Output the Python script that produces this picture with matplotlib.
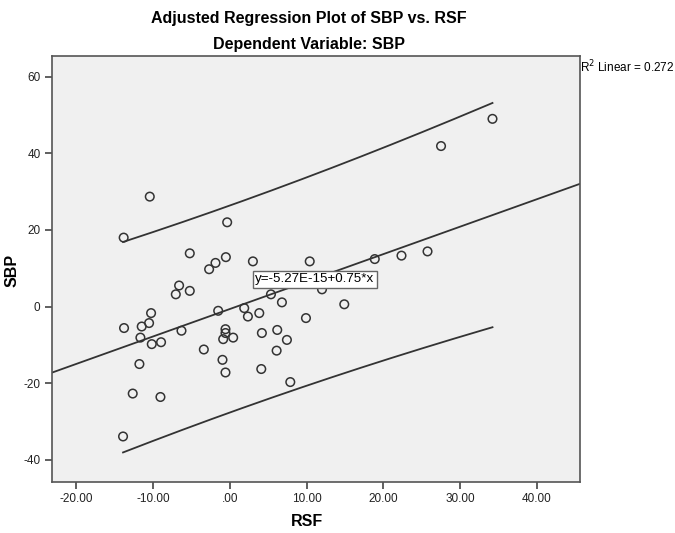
import numpy as np
import matplotlib
matplotlib.use("Agg")
import matplotlib.pyplot as plt

plt.rcParams['font.family'] = ['Liberation Sans', 'DejaVu Sans']

# partial residuals (RSF adjusted, SBP adjusted)
rsf = [-10.43, -13.83, -0.35, -5.22, -0.52, -1.87, -2.70, -6.61, -7.04, -5.22,
       -10.26, -1.52, -13.78, -11.48, -10.52, -11.65, -6.30, -10.17, -8.96, -0.57,
       -0.57, -0.87, 0.43, -3.39, -0.96, -0.57, -11.78, -12.65, -9.04, -13.91,
       3.00, 10.40, 5.35, 6.78, 12.00, 14.90, 1.87, 2.35, 3.83, 9.91,
       4.17, 6.17, 7.43, 6.09, 4.09, 7.87, 34.20, 27.50, 18.87, 22.35, 25.74]
sbp = [28.7, 18.0, 22.0, 13.9, 12.9, 11.4, 9.75, 5.5, 3.2, 4.1,
       -1.7, -1.1, -5.6, -5.2, -4.3, -8.1, -6.3, -9.8, -9.3, -5.9,
       -6.9, -8.5, -8.1, -11.2, -13.9, -17.2, -15.0, -22.7, -23.6, -33.9,
       11.8, 11.8, 3.2, 1.1, 4.5, 0.6, -0.4, -2.6, -1.7, -3.0,
       -6.9, -6.1, -8.7, -11.5, -16.3, -19.7, 49.0, 41.9, 12.4, 13.3, 14.4]

eq_label = "y=-5.27E-15+0.75*x"
r2_label = "R$^2$ Linear = 0.272"
x_ticks = [-20, -10, 0, 10, 20, 30, 40]
y_ticks = [-40, -20, 0, 20, 40, 60]
t_crit = 2.01  # t(0.975, df=49)

x = np.array(rsf)
y = np.array(sbp)
n = len(x)
slope, icpt = np.polyfit(x, y, 1)
resid = y - (icpt + slope * x)
s = np.sqrt(np.sum(resid ** 2) / (n - 2))
sxx = np.sum((x - x.mean()) ** 2)

fig = plt.figure(figsize=(6.75, 5.33), dpi=100)
ax = fig.add_axes([0.0766, 0.0963, 0.7827, 0.7986])
ax.set_facecolor('#f0f0f0')

xlim = (-23.2, 45.6)
ax.set_xlim(xlim)
ax.set_ylim(-45.7, 65.4)

# fit line across the full axis
xl = np.array(xlim)
ax.plot(xl, icpt + slope * xl, color='#333333', lw=1.3, zorder=2)

# 95% prediction bands over the data range
xs = np.linspace(x.min(), x.max(), 200)
half = t_crit * s * np.sqrt(1 + 1 / n + (xs - x.mean()) ** 2 / sxx)
ax.plot(xs, icpt + slope * xs + half, color='#333333', lw=1.3, zorder=2)
ax.plot(xs, icpt + slope * xs - half, color='#333333', lw=1.3, zorder=2)

ax.scatter(x, y, s=38, facecolors='none', edgecolors='#333333', linewidths=1.1, zorder=3)

ax.text(3.3, 7.1, eq_label, fontsize=9.6, ha='left', va='center', zorder=4,
        bbox=dict(boxstyle='square,pad=0.2', fc='white', ec='#666666', lw=1))

def fmt(v):
    lab = f"{v:.2f}"
    if lab.startswith("0"):
        lab = lab[1:]
    return lab

ax.set_xticks(x_ticks)
ax.set_xticklabels([fmt(v) for v in x_ticks])
ax.set_yticks(y_ticks)
ax.set_yticklabels([str(v) for v in y_ticks])
ax.tick_params(direction='out', length=5, width=1.2, color='#444444',
               labelsize=8.5, labelcolor='#222222', pad=3)
for sp in ax.spines.values():
    sp.set_color('#555555')
    sp.set_linewidth(1.2)

fig.text(0.458, 0.966, "Adjusted Regression Plot of SBP vs. RSF",
         ha='center', va='center', fontsize=11.5, fontweight='bold')
fig.text(0.458, 0.916, "Dependent Variable: SBP",
         ha='center', va='center', fontsize=11.5, fontweight='bold')
fig.text(0.859, 1 - 67 / 533, r2_label, ha='left', va='center', fontsize=8.5)
fig.text(307 / 675, 1 - 522 / 533, "RSF", ha='center', va='center',
         fontsize=11.5, fontweight='bold')
fig.text(12 / 675, 1 - 270 / 533, "SBP", ha='center', va='center',
         rotation=90, fontsize=11.5, fontweight='bold')

fig.savefig("out.png", dpi=100)
